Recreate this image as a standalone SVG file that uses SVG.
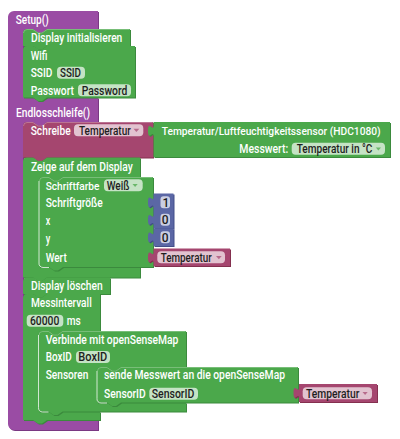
<svg xmlns="http://www.w3.org/2000/svg" xmlns:xlink="http://www.w3.org/1999/xlink" width="400" height="439" viewBox="0 0 400 439">
  <style>
    .p { fill: #9a4ca4; }
    .pd { fill: #7a3883; }
    .g { fill: #4ba84b; }
    .gd { fill: #3b8a3d; }
    .r { fill: #a5466f; }
    .rd { fill: #84304f; }
    .b { fill: #5b67a5; }
    .bd { fill: #434e88; }
    .hl { fill: none; stroke: #ffffff; stroke-opacity: 0.75; stroke-width: 1; }
    .hs { fill: none; stroke: #ffffff; stroke-opacity: 0.25; stroke-width: 1; }
    .fld { fill: #ffffff; fill-opacity: 0.68; }
    .t { font-family: Roboto, "Liberation Sans", Arial, sans-serif; font-weight: 500; font-size: 12px; fill: #ffffff; }
    .ft { font-family: Roboto, "Liberation Sans", Arial, sans-serif; font-weight: 500; font-size: 12px; fill: #1e1e1e; }
    .sm { font-size: 11px; }
    .ag { fill: #4ba84b; fill-opacity: 0.75; }
    .ar { fill: #a5466f; fill-opacity: 0.7; }
  </style>
  <defs>
    <path id="s-main" d="M 8,17 A 6,6 0 0 1 14,11 H 98 V 29 H 47 l -5,3.5 h -4 l -5,-3.5 H 27 A 4,4 0 0 0 23,33 V 93.5 A 4,4 0 0 0 27,97.5 H 98 V 122 H 47 l -5,3.5 h -4 l -5,-3.5 H 27 A 4,4 0 0 0 23,126 V 416 A 4,4 0 0 0 27,420 H 98 V 430 H 14 A 6,6 0 0 1 8,424 Z"/>
    <path id="s-init" d="M 23,33 A 4,4 0 0 1 27,29 H 33 l 5,3.5 h 4 l 5,-3.5 H 130 V 46 H 47 l -5,3.5 h -4 l -5,-3.5 H 23 Z"/>
    <path id="s-wifi" d="M 23,50 A 4,4 0 0 1 27,46 H 33 l 5,3.5 h 4 l 5,-3.5 H 135 V 97.5 H 47 l -5,3.5 h -4 l -5,-3.5 H 23 Z"/>
    <path id="s-write" d="M 23,126 A 4,4 0 0 1 27,122 H 33 l 5,3.5 h 4 l 5,-3.5 H 153 V 157.5 H 47 l -5,3.5 h -4 l -5,-3.5 H 23 Z"/>
    <path id="s-sensor" d="M 153.5,122 V 125.5 c 0,7.2 -5.5,-5.8 -5.5,5.4 s 5.5,-1.8 5.5,5.4 V 157 H 390 V 122 Z"/>
    <path id="s-show" d="M 23,161.5 A 4,4 0 0 1 27,157.5 H 33 l 5,3.5 h 4 l 5,-3.5 H 140 V 177 H 63 l -5,3.5 h -4 l -5,-3.5 H 43 A 4,4 0 0 0 39,181 V 263 A 4,4 0 0 0 43,267 H 140 V 277.5 H 47 l -5,3.5 h -4 l -5,-3.5 H 23 Z"/>
    <path id="s-font" d="M 39,181 A 4,4 0 0 1 43,177 H 49 l 5,3.5 h 4 l 5,-3.5 H 153 V 267 H 63 l -5,3.5 h -4 l -5,-3.5 H 39 Z"/>
    <path id="s-n1" d="M 153.5,193.5 V 197 c 0,7.2 -5.5,-5.8 -5.5,5.4 s 5.5,-1.8 5.5,5.4 V 211 H 173.5 V 193.5 Z"/>
    <path id="s-n2" d="M 153.5,211 V 214.5 c 0,7.2 -5.5,-5.8 -5.5,5.4 s 5.5,-1.8 5.5,5.4 V 228.5 H 173.5 V 211 Z"/>
    <path id="s-n3" d="M 153.5,228.5 V 232 c 0,7.2 -5.5,-5.8 -5.5,5.4 s 5.5,-1.8 5.5,5.4 V 246 H 173.5 V 228.5 Z"/>
    <path id="s-var1" d="M 153.5,248.5 V 252 c 0,7.2 -5.5,-5.8 -5.5,5.4 s 5.5,-1.8 5.5,5.4 V 266 H 230 V 248.5 Z"/>
    <path id="s-clear" d="M 23,281.5 A 4,4 0 0 1 27,277.5 H 33 l 5,3.5 h 4 l 5,-3.5 H 110 V 294 H 47 l -5,3.5 h -4 l -5,-3.5 H 23 Z"/>
    <path id="s-interval" d="M 23,298 A 4,4 0 0 1 27,294 H 33 l 5,3.5 h 4 l 5,-3.5 H 100 V 331 H 62.5 l -5,3.5 h -4 l -5,-3.5 H 42.5 A 4,4 0 0 0 38.5,335 V 407.5 A 4,4 0 0 0 42.5,411.5 H 100 V 420 H 47 l -5,3.5 h -4 l -5,-3.5 H 23 Z"/>
    <path id="s-osem" d="M 38.5,335 A 4,4 0 0 1 42.5,331 H 48.5 l 5,3.5 h 4 l 5,-3.5 H 186 V 367 H 121 l -5,3.5 h -4 l -5,-3.5 H 101 A 4,4 0 0 0 97,371 V 398.5 A 4,4 0 0 0 101,402.5 H 186 V 411.5 H 62.5 l -5,3.5 h -4 l -5,-3.5 H 38.5 Z"/>
    <path id="s-send" d="M 97,371 A 4,4 0 0 1 101,367 H 107 l 5,3.5 h 4 l 5,-3.5 H 298 V 402.5 H 121 l -5,3.5 h -4 l -5,-3.5 H 97 Z"/>
    <path id="s-var2" d="M 299,384 V 387.5 c 0,7.2 -5.5,-5.8 -5.5,5.4 s 5.5,-1.8 5.5,5.4 V 402 H 377 V 384 Z"/>
  </defs>

  <!-- setup / loop function block -->
  <g id="functions">
    <use xlink:href="#s-main" class="pd" transform="translate(1,1)"/>
    <use xlink:href="#s-main" class="p"/>
    <text class="t" x="15.7" y="23.5" textLength="33" lengthAdjust="spacingAndGlyphs">Setup()</text>
    <text class="t" x="16" y="117" textLength="74" lengthAdjust="spacingAndGlyphs">Endlosschleife()</text>
  </g>

  <g id="display-init">
    <use xlink:href="#s-init" class="gd" transform="translate(1,1)"/>
    <use xlink:href="#s-init" class="g"/>
    <text class="t" x="31" y="42" textLength="91.3" lengthAdjust="spacingAndGlyphs">Display initialisieren</text>
  </g>

  <g id="wifi">
    <use xlink:href="#s-wifi" class="gd" transform="translate(1,1)"/>
    <use xlink:href="#s-wifi" class="g"/>
    <text class="t" x="30.7" y="59.5" textLength="16.7" lengthAdjust="spacingAndGlyphs">Wifi</text>
    <text class="t" x="30.7" y="77" textLength="21.7" lengthAdjust="spacingAndGlyphs">SSID</text>
    <rect class="fld" x="57" y="66.7" width="28" height="12" rx="4"/>
    <text class="ft" x="60" y="77" textLength="21" lengthAdjust="spacingAndGlyphs">SSID</text>
    <text class="t" x="30.7" y="94.5" textLength="43.3" lengthAdjust="spacingAndGlyphs">Passwort</text>
    <rect class="fld" x="78" y="84.2" width="53" height="12" rx="4"/>
    <text class="ft" x="81.7" y="94.5" textLength="45.6" lengthAdjust="spacingAndGlyphs">Password</text>
  </g>

  <g id="write-value">
    <use xlink:href="#s-write" class="rd" transform="translate(1,1)"/>
    <use xlink:href="#s-write" class="r"/>
    <text class="t" x="30.7" y="134.5" textLength="40" lengthAdjust="spacingAndGlyphs">Schreibe</text>
    <rect class="fld" x="74" y="124.2" width="69.3" height="12" rx="4"/>
    <text class="ft" x="79" y="134.5" textLength="51.7" lengthAdjust="spacingAndGlyphs">Temperatur</text>
    <path class="ar" d="M 133.5,128.8 H 139.3 L 136.4,132 Z"/>
  </g>

  <g id="sensor-hdc1080">
    <use xlink:href="#s-sensor" class="gd" transform="translate(1,1)"/>
    <use xlink:href="#s-sensor" class="g"/>
    <text class="t sm" x="161.7" y="135" textLength="219" lengthAdjust="spacingAndGlyphs">Temperatur/Luftfeuchtigkeitssensor (HDC1080)</text>
    <text class="t" x="239.3" y="153" textLength="49" lengthAdjust="spacingAndGlyphs">Messwert:</text>
    <rect class="fld" x="291.7" y="142.7" width="93.3" height="12" rx="4"/>
    <text class="ft" x="296.7" y="153" textLength="75.7" lengthAdjust="spacingAndGlyphs">Temperatur in °C</text>
    <path class="ag" d="M 375.8,147.5 H 381 L 378.4,150.6 Z"/>
  </g>

  <g id="display-show">
    <use xlink:href="#s-show" class="gd" transform="translate(1,1)"/>
    <use xlink:href="#s-show" class="g"/>
    <text class="t" x="31" y="171" textLength="101.7" lengthAdjust="spacingAndGlyphs">Zeige auf dem Display</text>
  </g>

  <g id="display-print">
    <use xlink:href="#s-font" class="gd" transform="translate(1,1)"/>
    <use xlink:href="#s-font" class="g"/>
    <text class="t sm" x="45.7" y="189.5" textLength="53.7" lengthAdjust="spacingAndGlyphs">Schriftfarbe</text>
    <rect class="fld" x="104" y="179.3" width="38.7" height="12" rx="4"/>
    <text class="ft" x="106.7" y="189.5" textLength="22.7" lengthAdjust="spacingAndGlyphs">Weiß</text>
    <path class="ag" d="M 132.5,184 H 137.7 L 135.1,187.1 Z"/>
    <text class="t" x="45.7" y="207.3" textLength="57" lengthAdjust="spacingAndGlyphs">Schriftgröße</text>
    <text class="t" x="45.7" y="225" textLength="4.5" lengthAdjust="spacingAndGlyphs">x</text>
    <text class="t" x="45.7" y="242.8" textLength="4.5" lengthAdjust="spacingAndGlyphs">y</text>
    <text class="t" x="45.7" y="261.5" textLength="21" lengthAdjust="spacingAndGlyphs">Wert</text>
  </g>

  <g id="num-size">
    <use xlink:href="#s-n1" class="bd" transform="translate(1,1)"/>
    <use xlink:href="#s-n1" class="b"/>
    <rect class="fld" x="160.5" y="196.3" width="9.5" height="12" rx="3"/>
    <text class="ft" x="162.4" y="206.6">1</text>
  </g>
  <g id="num-x">
    <use xlink:href="#s-n2" class="bd" transform="translate(1,1)"/>
    <use xlink:href="#s-n2" class="b"/>
    <rect class="fld" x="160.5" y="213.8" width="9.5" height="12" rx="3"/>
    <text class="ft" x="161.8" y="224.1">0</text>
  </g>
  <g id="num-y">
    <use xlink:href="#s-n3" class="bd" transform="translate(1,1)"/>
    <use xlink:href="#s-n3" class="b"/>
    <rect class="fld" x="160.5" y="231.3" width="9.5" height="12" rx="3"/>
    <text class="ft" x="161.8" y="241.6">0</text>
  </g>

  <g id="var-temp-1">
    <use xlink:href="#s-var1" class="rd" transform="translate(1,1)"/>
    <use xlink:href="#s-var1" class="r"/>
    <rect class="fld" x="157.3" y="251.3" width="67.7" height="12" rx="4"/>
    <text class="ft" x="160.7" y="261.6" textLength="51" lengthAdjust="spacingAndGlyphs">Temperatur</text>
    <path class="ar" d="M 216,256 H 221.7 L 218.85,259.2 Z"/>
  </g>

  <g id="display-clear">
    <use xlink:href="#s-clear" class="gd" transform="translate(1,1)"/>
    <use xlink:href="#s-clear" class="g"/>
    <text class="t" x="31" y="289.5" textLength="71.7" lengthAdjust="spacingAndGlyphs">Display löschen</text>
  </g>

  <g id="interval">
    <use xlink:href="#s-interval" class="gd" transform="translate(1,1)"/>
    <use xlink:href="#s-interval" class="g"/>
    <text class="t" x="31" y="307" textLength="60.7" lengthAdjust="spacingAndGlyphs">Messintervall</text>
    <rect class="fld" x="26.7" y="314.7" width="36.6" height="12" rx="4"/>
    <text class="ft" x="30" y="325" textLength="29.3" lengthAdjust="spacingAndGlyphs">60000</text>
    <text class="t" x="66.7" y="325.3" textLength="14" lengthAdjust="spacingAndGlyphs">ms</text>
  </g>

  <g id="osem-connect">
    <use xlink:href="#s-osem" class="gd" transform="translate(1,1)"/>
    <use xlink:href="#s-osem" class="g"/>
    <text class="t" x="45.7" y="343.6" textLength="132.7" lengthAdjust="spacingAndGlyphs">Verbinde mit openSenseMap</text>
    <text class="t" x="45.7" y="361.2" textLength="26" lengthAdjust="spacingAndGlyphs">BoxID</text>
    <rect class="fld" x="76" y="351" width="34" height="12" rx="4"/>
    <text class="ft" x="78.3" y="361.3" textLength="29" lengthAdjust="spacingAndGlyphs">BoxID</text>
    <text class="t" x="45.7" y="378.7" textLength="42.7" lengthAdjust="spacingAndGlyphs">Sensoren</text>
  </g>

  <g id="osem-send">
    <use xlink:href="#s-send" class="gd" transform="translate(1,1)"/>
    <use xlink:href="#s-send" class="g"/>
    <text class="t" x="104" y="379.3" textLength="181" lengthAdjust="spacingAndGlyphs">sende Messwert an die openSenseMap</text>
    <text class="t" x="104" y="397.7" textLength="41.7" lengthAdjust="spacingAndGlyphs">SensorID</text>
    <rect class="fld" x="149.3" y="387.7" width="48.7" height="12" rx="4"/>
    <text class="ft" x="151.7" y="397.9" textLength="42.7" lengthAdjust="spacingAndGlyphs">SensorID</text>
  </g>

  <g id="var-temp-2">
    <use xlink:href="#s-var2" class="rd" transform="translate(1,1)"/>
    <use xlink:href="#s-var2" class="r"/>
    <rect class="fld" x="302.7" y="387.3" width="69.3" height="12" rx="4"/>
    <text class="ft" x="306" y="397.6" textLength="53.3" lengthAdjust="spacingAndGlyphs">Temperatur</text>
    <path class="ar" d="M 362.5,392 H 367.7 L 365.1,395.1 Z"/>
  </g>

  <!-- light edges of the statement inputs -->
  <g id="highlights">
    <path class="hl" d="M 39,181 V 263 A 4,4 0 0 0 43,267.5 H 49"/>
    <path class="hl" d="M 38.5,335 V 407.5 A 4,4 0 0 0 42.5,412 H 48.5"/>
    <path class="hl" d="M 97,371 V 398.5 A 4,4 0 0 0 101,403 H 107"/>
    <path class="hs" d="M 23.5,33 A 3.5,3.5 0 0 1 27,29.5 H 33 l 5,3.5 h 4 l 5,-3.5 H 129.5"/>
    <path class="hs" d="M 23.5,126 A 3.5,3.5 0 0 1 27,122.5 H 33 l 5,3.5 h 4 l 5,-3.5 H 152.5"/>
    <path class="hs" d="M 39.5,181 A 3.5,3.5 0 0 1 43,177.5 H 49 l 5,3.5 h 4 l 5,-3.5 H 152.5"/>
    <path class="hs" d="M 39,335 A 3.5,3.5 0 0 1 42.5,331.5 H 48.5 l 5,3.5 h 4 l 5,-3.5 H 185.5"/>
    <path class="hs" d="M 97.5,371 A 3.5,3.5 0 0 1 101,367.5 H 107 l 5,3.5 h 4 l 5,-3.5 H 297.5"/>
  </g>
</svg>
